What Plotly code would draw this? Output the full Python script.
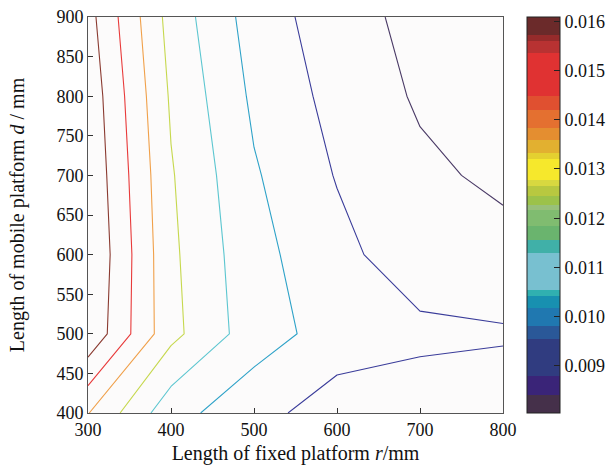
import plotly.graph_objects as go

# ---- data ----
r_vals = [300, 400, 500, 600, 700, 800]          # fixed platform r (mm)
d_vals = [400, 500, 600, 700, 800, 900]          # mobile platform d (mm)
z_d400 = [0.01404, 0.01135, 0.010371, 0.009466, 0.00939, 0.009451]
z_d500 = [0.01682, 0.01329, 0.011456, 0.010579, 0.01025, 0.01010]
z_d600 = [0.01702, 0.01320, 0.011322, 0.010300, 0.009377, 0.009331]
z_d700 = [0.01685, 0.013086, 0.011105, 0.009942, 0.00920, 0.00880]
z_d800 = [0.01668, 0.01287, 0.01081, 0.00967, 0.008875, 0.00860]
z_d900 = [0.01636, 0.01261, 0.010542, 0.009445, 0.008678, 0.00840]
levels = [0.009, 0.010, 0.011, 0.012, 0.013, 0.014, 0.015, 0.016]
level_colors = ["#4a3a66", "#3a3c9a", "#2ea2c8", "#5cc6d0",
                "#c6d84e", "#f0a04a", "#e83a3a", "#8a3a30"]

# colorbar bands (value boundaries, bottom -> top) and colours
band_edges = [0.008041, 0.008413, 0.008785, 0.009544, 0.009801, 0.010174,
              0.010411, 0.010547, 0.011292, 0.011563, 0.011834, 0.012173,
              0.012274, 0.012444, 0.012647, 0.012783, 0.013203, 0.013325,
              0.013596, 0.013833, 0.014205, 0.014476, 0.015357, 0.015594,
              0.015730, 0.016089]
band_colors = ["#45304a", "#3a2478", "#303c80", "#2a5898", "#2078b0",
               "#1890b0", "#30b0b0", "#78c0d0", "#40b0a8", "#6ab46e",
               "#80bc70", "#98c07a", "#9cc24a", "#b8c840", "#d8d840",
               "#f6e82c", "#e4d030", "#e2b030", "#e48e30", "#e47030",
               "#e05030", "#e03232", "#b83232", "#962b2b", "#6b2a2a"]
cb_ticks = [0.009, 0.010, 0.011, 0.012, 0.013, 0.014, 0.015, 0.016]

z = [z_d400, z_d500, z_d600, z_d700, z_d800, z_d900]

FONT = "Liberation Serif"
fig = go.Figure()

for lv, col in zip(levels, level_colors):
    fig.add_trace(go.Contour(
        x=r_vals, y=d_vals, z=z,
        contours=dict(start=lv, end=lv, size=1, coloring="none"),
        line=dict(color=col, width=1.1, smoothing=0),
        showscale=False, hoverinfo="skip",
    ))

lo, hi = band_edges[0], band_edges[-1]
cs = []
for i, c in enumerate(band_colors):
    a = (band_edges[i] - lo) / (hi - lo)
    b = (band_edges[i + 1] - lo) / (hi - lo)
    cs.append([a, c])
    cs.append([b, c])
cs[0][0] = 0.0
cs[-1][0] = 1.0

fig.add_trace(go.Scatter(
    x=[550], y=[650], mode="markers",
    marker=dict(size=1, opacity=0, color=[0.012], colorscale=cs,
                cmin=lo, cmax=hi, showscale=True,
                colorbar=dict(
                    x=1.0578, xanchor="left", xpad=0, ypad=0,
                    y=0.5, yanchor="middle",
                    len=1.0, lenmode="fraction", thickness=33,
                    outlinewidth=1, outlinecolor="#222",
                    tickvals=cb_ticks, ticktext=[f"{t:.3f}" for t in cb_ticks],
                    ticks="inside", ticklen=6, tickcolor="#222",
                    tickfont=dict(family=FONT, size=18, color="#111"),
                )),
    hoverinfo="skip", showlegend=False,
))

axis_common = dict(
    showgrid=False, zeroline=False, showline=True, mirror=True,
    linecolor="#555", linewidth=1, ticks="inside", ticklen=5,
    tickcolor="#333", tickfont=dict(family=FONT, size=18, color="#111"),
)
fig.update_layout(
    width=611, height=466,
    margin=dict(l=88, r=108, t=17, b=53, autoexpand=False),
    paper_bgcolor="white", plot_bgcolor="#fcfbfb",
    showlegend=False,
    xaxis=dict(range=[300, 800], tickvals=[300, 400, 500, 600, 700, 800],
               title=dict(text="Length of fixed platform <i>r</i>/mm",
                          font=dict(family=FONT, size=20, color="#111"), standoff=7),
               **axis_common),
    yaxis=dict(range=[400, 900], tickvals=list(range(400, 901, 50)),
               title=dict(text="Length of mobile platform <i>d</i> / mm",
                          font=dict(family=FONT, size=20, color="#111"), standoff=26),
               **axis_common),
)
fig.write_html("out.html")
